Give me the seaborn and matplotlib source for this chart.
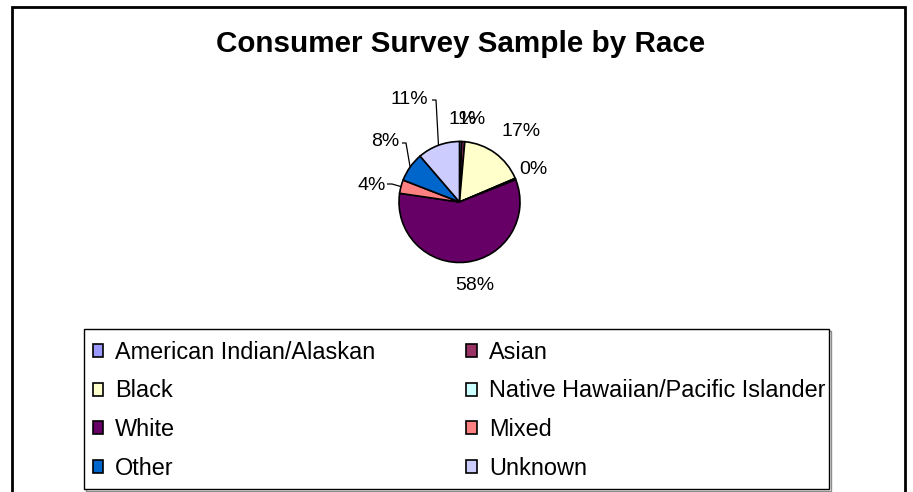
import numpy as np
import matplotlib
matplotlib.use("Agg")
import matplotlib.pyplot as plt
from matplotlib.patches import Rectangle
import seaborn as sns

# Survey sample shares by race (percent)
categories = [
    "American Indian/Alaskan",
    "Asian",
    "Black",
    "Native Hawaiian/Pacific Islander",
    "White",
    "Mixed",
    "Other",
    "Unknown",
]
shares = [0.6, 0.8, 17.2, 0.4, 58.3, 3.6, 7.8, 11.3]
colors = ["#9999FF", "#993366", "#FFFFCC", "#CCFFFF",
          "#660066", "#FF8080", "#0066CC", "#CCCCFF"]
title = "Consumer Survey Sample by Race"

sns.set_theme(style="white")
plt.rcParams["font.family"] = ["Liberation Sans", "DejaVu Sans"]
plt.rcParams["text.color"] = "black"

W, H = 913, 492
fig = plt.figure(figsize=(W / 100, H / 100), dpi=100)
fig.patch.set_facecolor("white")

# pie geometry in pixels (center and radius)
cx, cy, R = 459.5, 202.0, 60.5

ax = fig.add_axes([0, 0, 1, 1])
palette = sns.color_palette(colors)
wedges, _ = ax.pie(
    shares,
    colors=palette,
    startangle=90,
    counterclock=False,
    radius=1.0,
    wedgeprops=dict(edgecolor="black", linewidth=1.2),
)
ax.set_aspect("equal")
ax.set_xlim(-cx / R, (W - cx) / R)
ax.set_ylim(-(H - cy) / R, cy / R)
ax.axis("off")


def px(x, y):
    """pixel position (from top-left) -> pie data coordinates"""
    return (x - cx) / R, (cy - y) / R


def fig_box(x0, y0, x1, y1):
    """pixel box (from top-left) -> figure-fraction rectangle origin/size"""
    return (x0 / W, 1 - y1 / H), (x1 - x0) / W, (y1 - y0) / H


# label centres in pixels, one per slice
label_pos = [(462.5, 120), (471.5, 120), (521, 131), (533.5, 170),
             (474.5, 285), (371.5, 185), (385, 141), (409.5, 99)]
# leader lines: slice index -> pixel start of the line next to the label
leaders = {5: [(387, 184), (392, 184)],
           6: [(402, 143), (406, 143)],
           7: [(432, 100), (436, 100)]}

for i, (w, v) in enumerate(zip(wedges, shares)):
    lx, ly = px(*label_pos[i])
    ax.text(lx, ly, f"{v:.0f}%", ha="center", va="center",
            fontsize=14, color="black")
    if i in leaders:
        mid = np.deg2rad((w.theta1 + w.theta2) / 2)
        ex, ey = np.cos(mid), np.sin(mid)
        pts = [px(*p) for p in leaders[i]] + [(ex, ey)]
        ax.plot([p[0] for p in pts], [p[1] for p in pts],
                color="black", linewidth=0.9, solid_capstyle="butt")

# chart title
fig.text(461 / W, 1 - 44 / H, title, ha="center", va="center",
         fontsize=21.3, fontweight="bold", color="black")

# legend frame with a thin drop shadow
for (dx, dy, col) in [(1.5, 1.5, "0.55"), (0, 0, "black")]:
    xy, w_, h_ = fig_box(84 + dx, 329 + dy, 829 + dx, 489 + dy)
    fig.patches.append(Rectangle(xy, w_, h_, transform=fig.transFigure,
                                 facecolor="white", edgecolor=col,
                                 linewidth=1.0, zorder=1))

# legend entries read across rows: reorder for column-major filling
ncol = 2
order = [i for c in range(ncol) for i in range(c, len(categories), ncol)]
leg = fig.legend(
    [wedges[i] for i in order], [categories[i] for i in order],
    ncol=ncol,
    loc="upper left",
    bbox_to_anchor=(81 / W, 1 - 329 / H, (837 - 81) / W, 0),
    mode="expand",
    bbox_transform=fig.transFigure,
    fontsize=16.9,
    labelcolor="black",
    handlelength=0.45,
    handleheight=0.47,
    handletextpad=0.5,
    labelspacing=0.67,
    borderpad=0.5,
    borderaxespad=0,
    frameon=False,
)
leg.set_zorder(3)
for h in leg.legend_handles:
    h.set_edgecolor("black")
    h.set_linewidth(1.2)

# outer chart border
fig.patches.append(Rectangle((12 / W, -0.05), (905 - 12) / W, 1.05 - 7 / H,
                             transform=fig.transFigure, fill=False,
                             edgecolor="black", linewidth=2.0, zorder=0))

fig.savefig("out.png", dpi=100, facecolor="white")
